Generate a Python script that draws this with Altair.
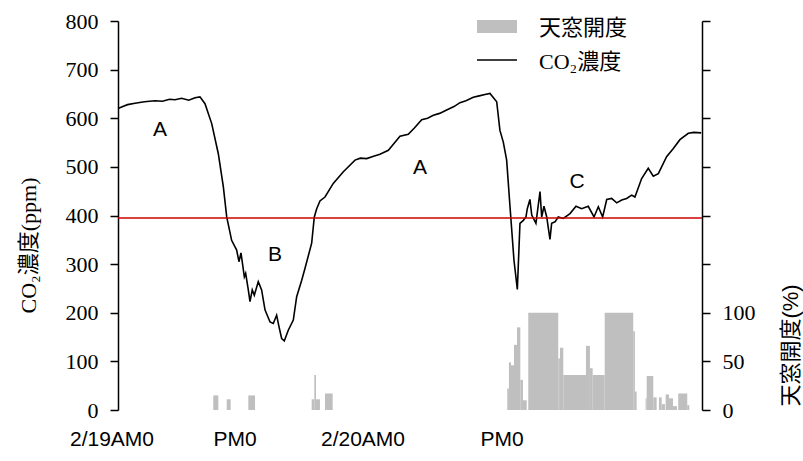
import altair as alt
import pandas as pd

# CO2 concentration (ppm), hours counted from 2/19 0:00
hours = [0.0, 0.4, 0.8, 1.42, 2.2, 3.08, 3.7, 4.3, 4.75, 5.3, 5.9, 6.42, 6.83, 7.25,
         7.81, 8.36, 8.78, 9.06, 9.47, 9.89, 10.08, 10.25, 10.53, 10.64, 10.86, 11.0,
         11.19, 11.36, 11.69, 11.97, 12.25, 12.67, 12.94, 13.22, 13.42, 13.64, 13.86,
         14.19, 14.61, 14.89, 15.31, 15.58, 16.14, 16.36, 16.56, 16.83, 17.25, 17.94,
         18.78, 19.75, 20.2, 20.72, 21.3, 21.83, 22.53, 23.0, 23.5, 24.19, 24.7, 25.31,
         25.8, 26.28, 26.8, 27.39, 28.0, 28.5, 29.0, 29.61, 30.1, 30.58, 31.0, 31.56,
         31.83, 32.11, 32.39, 32.67, 33.0, 33.28, 33.5, 33.78, 34.0, 34.11, 34.33, 34.48,
         34.83, 35.17, 35.31, 35.5, 35.73, 36.0, 36.14, 36.42, 36.69, 37.11, 37.67,
         38.17, 38.64, 39.19, 39.67, 40.03, 40.39, 40.73, 41.14, 41.56, 41.98, 42.39,
         42.81, 43.08, 43.64, 44.19, 44.61, 45.03, 45.72, 46.28, 46.83, 47.53, 48.0, 48.6]
co2 = [620, 624, 628, 631, 634, 636, 635, 639, 638, 641, 637, 642, 644, 630,
       589, 527, 459, 397, 349, 329, 305, 323, 274, 281, 247, 223,
       247, 236, 264, 247, 206, 181, 178, 195, 171, 147, 142,
       164, 185, 233, 267, 291, 343, 397, 414, 430, 438, 466,
       490, 514, 518, 517, 522, 526, 534, 548, 563, 567, 580, 597,
       600, 606, 610, 617, 624, 632, 636, 643, 646, 649, 651, 634,
       575, 551, 514, 418, 308, 248, 384, 390, 397, 414, 433, 401,
       384, 449, 397, 419, 397, 351, 384, 387, 397, 394, 404,
       419, 414, 419, 397, 418, 397, 433, 435, 426, 432, 435,
       442, 438, 476, 497, 481, 486, 521, 538, 556, 569, 571, 570]

# Roof window opening (%), one block per interval
win_start = [7.94, 9.06, 10.86, 16.14, 16.36, 16.5, 17.25,
             32.44, 32.58, 32.75, 33.0, 33.25, 33.53, 33.75, 34.19, 36.69, 36.83,
             37.11, 39.0, 39.33, 39.56, 40.56, 42.94, 43.08,
             43.97, 44.06, 44.61, 45.08, 45.31, 45.64, 45.92, 46.25, 46.69, 47.44]
win_end = [8.36, 9.39, 11.42, 16.36, 16.5, 16.83, 17.89,
           32.58, 32.75, 33.0, 33.25, 33.53, 33.75, 34.06, 36.69, 36.83, 37.11,
           39.0, 39.33, 39.56, 40.56, 42.94, 43.08, 43.22,
           44.06, 44.61, 44.89, 45.31, 45.58, 45.92, 46.25, 46.58, 47.44, 47.61]
win_open = [15, 11, 15, 11, 36, 11, 17,
            22, 49, 46, 67, 85, 31, 10, 100, 53, 64,
            36, 66, 43, 36, 100, 81, 19,
            12, 35, 13, 13, 6, 16, 12, 4, 17, 5]

threshold = 395

zone_text = ["A", "B", "A", "C"]
zone_hour = [3.5, 13.08, 25.17, 38.25]
zone_ppm = [575, 318, 497, 469]

day_labels = ["2/19AM0", "PM0", "2/20AM0", "PM0"]
day_label_hour = [-0.5, 9.75, 20.42, 32.0]

SERIF = "'Liberation Serif', 'Noto Sans CJK JP'"
SANS = "'Liberation Sans', 'Noto Sans CJK JP'"
XDOM = [0, 48.67]

co2_df = pd.DataFrame({"hour": hours, "co2": co2})
win_df = pd.DataFrame({"start": win_start, "end": win_end, "open": win_open})
zone_df = pd.DataFrame({"t": zone_text, "hour": zone_hour, "ppm": zone_ppm})
day_df = pd.DataFrame({"t": day_labels, "hour": day_label_hour})

xscale = alt.Scale(domain=XDOM, nice=False, zero=False)
ppm_scale = alt.Scale(domain=[0, 800], nice=False)

bars = alt.Chart(win_df).mark_rect(color="#bfbfbf").encode(
    x=alt.X("start:Q", scale=xscale,
            axis=alt.Axis(values=[12, 24, 36], labels=False, title=None,
                          domainWidth=3, tickWidth=1.5, tickSize=9)),
    x2="end:Q",
    y=alt.Y("open:Q", scale=alt.Scale(domain=[0, 400], nice=False),
            axis=alt.Axis(orient="right", values=list(range(0, 401, 50)),
                          labelExpr="datum.value <= 100 ? datum.label : ''",
                          title="天窓開度(%)", titleAngle=270, titleX=88, titleY=324,
                          titleAlign="center", titleBaseline="middle",
                          titleFont=SANS, titleFontSize=22, titleFontWeight="normal",
                          labelPadding=12)),
    y2=alt.datum(0),
)

line = alt.Chart(co2_df).mark_line(color="black", strokeWidth=1.6).encode(
    x=alt.X("hour:Q", scale=xscale, axis=None),
    y=alt.Y("co2:Q", scale=ppm_scale,
            axis=alt.Axis(values=list(range(0, 801, 100)), title="CO₂濃度(ppm)",
                          titleAngle=270, titleX=-90, titleY=224,
                          titleAlign="center", titleBaseline="middle",
                          titleFont=SERIF, titleFontSize=22, titleFontWeight="normal",
                          labelPadding=12)),
)

rule = alt.Chart(pd.DataFrame({"v": [threshold]})).mark_rule(
    color="#cc0000", strokeWidth=1.6).encode(
    y=alt.Y("v:Q", scale=ppm_scale, axis=None),
)

zones = alt.Chart(zone_df).mark_text(font=SANS, fontSize=21, color="black").encode(
    x=alt.X("hour:Q", scale=xscale, axis=None),
    y=alt.Y("ppm:Q", scale=ppm_scale, axis=None),
    text="t:N",
)

days = alt.Chart(day_df).mark_text(font=SANS, fontSize=21, color="black",
                                   baseline="middle").encode(
    x=alt.X("hour:Q", scale=xscale, axis=None),
    y=alt.value(419),
    text="t:N",
)

# legend
leg_rect = alt.Chart(pd.DataFrame({"k": [0]})).mark_rect(color="#bfbfbf").encode(
    x=alt.value(359), x2=alt.value(399), y=alt.value(-1), y2=alt.value(12))
leg_line = alt.Chart(pd.DataFrame({"k": [0]})).mark_rule(color="black", strokeWidth=1.6).encode(
    x=alt.value(359), x2=alt.value(399), y=alt.value(39))
leg_text = alt.Chart(pd.DataFrame({"t": ["天窓開度", "CO₂濃度"], "yy": [7, 41]})).mark_text(
    font=SERIF, fontSize=22, color="black", align="left", baseline="middle").encode(
    x=alt.value(421), y=alt.Y("yy:Q", scale=alt.Scale(domain=[0, 389], range=[0, 389]), axis=None),
    text="t:N")

chart = alt.layer(bars, line, rule, zones, days, leg_rect, leg_line, leg_text).resolve_scale(
    y="independent"
).properties(
    width=584, height=389,
    autosize=alt.AutoSizeParams(type="none"),
    padding={"left": 118, "top": 21, "right": 101, "bottom": 51},
    background="white",
).configure_view(stroke=None).configure_axis(
    grid=False, domainColor="black", tickColor="black", labelColor="black",
    titleColor="black", labelFont=SERIF, labelFontSize=22, tickSize=8,
    tickWidth=1.5, domainWidth=1.5,
)

chart.save("out.html", embed_options={"renderer": "svg", "actions": False})
